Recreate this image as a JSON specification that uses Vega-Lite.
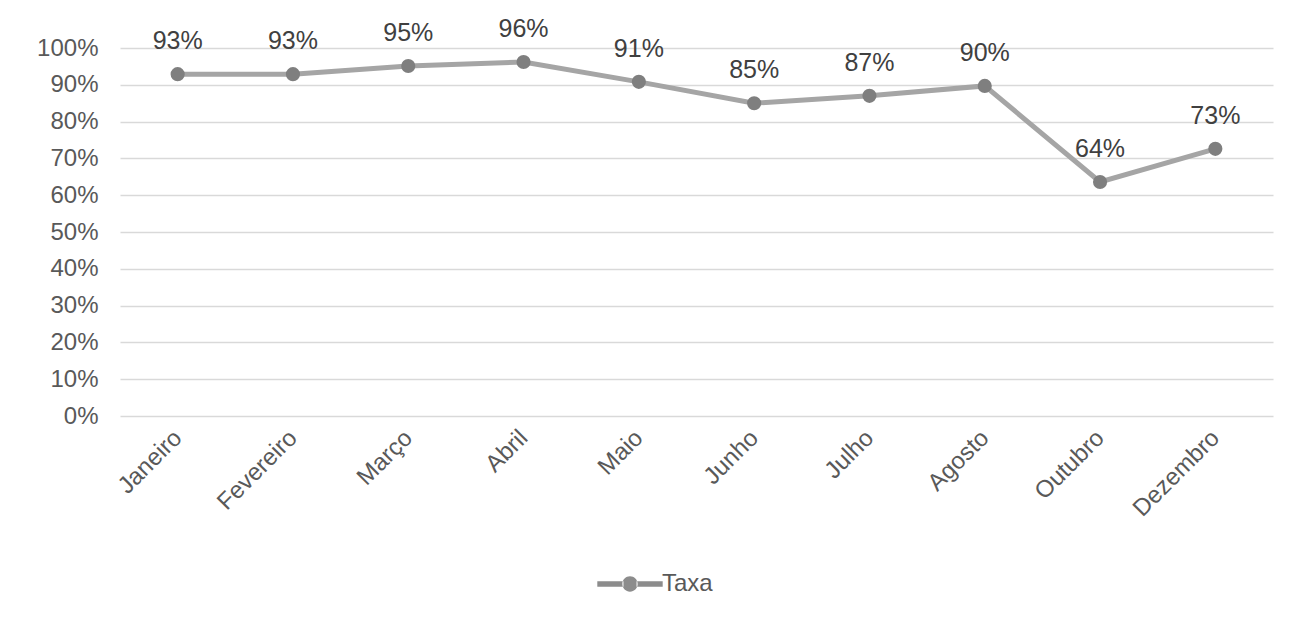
{
  "$schema": "https://vega.github.io/schema/vega-lite/v6.json",
  "width": 1153,
  "height": 368,
  "autosize": "none",
  "padding": {"left": 120, "top": 48, "right": 24, "bottom": 208},
  "background": "white",
  "config": {
    "font": "Liberation Sans",
    "view": {"stroke": null}
  },
  "data": {
    "values": [
      {"mes": "Janeiro", "taxa": 0.929, "serie": "Taxa"},
      {"mes": "Fevereiro", "taxa": 0.929, "serie": "Taxa"},
      {"mes": "Março", "taxa": 0.951, "serie": "Taxa"},
      {"mes": "Abril", "taxa": 0.962, "serie": "Taxa"},
      {"mes": "Maio", "taxa": 0.908, "serie": "Taxa"},
      {"mes": "Junho", "taxa": 0.85, "serie": "Taxa"},
      {"mes": "Julho", "taxa": 0.87, "serie": "Taxa"},
      {"mes": "Agosto", "taxa": 0.897, "serie": "Taxa"},
      {"mes": "Outubro", "taxa": 0.636, "serie": "Taxa"},
      {"mes": "Dezembro", "taxa": 0.726, "serie": "Taxa"}
    ]
  },
  "encoding": {
    "x": {
      "field": "mes",
      "type": "nominal",
      "sort": null,
      "scale": {"paddingInner": 0, "paddingOuter": 0},
      "axis": {
        "title": null,
        "labelAngle": -45,
        "labelAlign": "right",
        "labelBaseline": "middle",
        "labelFontSize": 24,
        "labelColor": "#595959",
        "labelPadding": 18,
        "labelOverlap": false,
        "ticks": false,
        "domain": false,
        "grid": false
      }
    },
    "y": {
      "field": "taxa",
      "type": "quantitative",
      "scale": {"domain": [0, 1], "nice": false},
      "axis": {
        "title": null,
        "format": ".0%",
        "values": [0, 0.1, 0.2, 0.3, 0.4, 0.5, 0.6, 0.7, 0.8, 0.9, 1],
        "labelFontSize": 24,
        "labelColor": "#595959",
        "labelPadding": 22,
        "labelOverlap": false,
        "labelFlush": false,
        "ticks": false,
        "domain": false,
        "grid": true,
        "gridColor": "#d9d9d9",
        "gridWidth": 1.5
      }
    }
  },
  "layer": [
    {
      "mark": {"type": "line", "strokeWidth": 5, "color": "#a5a5a5"},
      "encoding": {
        "color": {
          "field": "serie",
          "type": "nominal",
          "scale": {"domain": ["Taxa"], "range": ["#a5a5a5"]},
          "legend": {
            "title": null,
            "orient": "none",
            "legendX": 488,
            "legendY": 514,
            "symbolType": "M-1.5,-0.125H-0.3V0.125H-1.5Z M0.3,-0.125H1.5V0.125H0.3Z M-0.35,0A0.35,0.35 0 1,0 0.35,0A0.35,0.35 0 1,0 -0.35,0Z",
            "symbolSize": 1900,
            "symbolStrokeWidth": 0,
            "symbolFillColor": "#8c8c8c",
            "symbolOpacity": 1,
            "labelFontSize": 24,
            "labelColor": "#595959",
            "labelOffset": 10
          }
        }
      }
    },
    {
      "mark": {"type": "point", "filled": true, "size": 200, "color": "#7f7f7f", "opacity": 1}
    },
    {
      "mark": {"type": "text", "dy": -33, "fontSize": 25, "color": "#404040"},
      "encoding": {
        "text": {"field": "taxa", "type": "quantitative", "format": ".0%"}
      }
    }
  ]
}
